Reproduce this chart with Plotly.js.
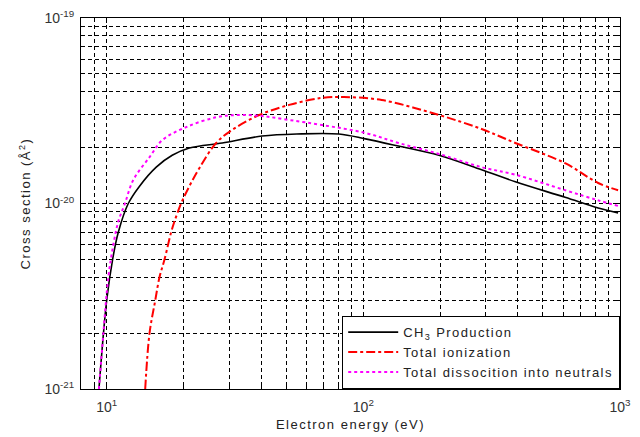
<!DOCTYPE html>
<html>
<head>
<meta charset="utf-8">
<script src="https://cdn.plot.ly/plotly-3.0.1.min.js"></script>
<style>
html,body{margin:0;padding:0;background:#fff;}
#chart{width:640px;height:437px;}
.legendtext{letter-spacing:1.4px;}
.xtitle,.ytitle{letter-spacing:1.5px;}
</style>
</head>
<body>
<div id="chart"></div>
<script>
// CH3 production
const ch3E = [9.33, 10.0, 10.55, 11.10, 12.14, 13.43, 15.6, 18.0, 21.0, 28.2, 40.3, 55, 80.3, 102, 137, 197, 289, 391, 611, 822, 983];
const ch3S = [1.0e-21, 3.0e-21, 5.0e-21, 7.0e-21, 1.0e-20, 1.24e-20, 1.57e-20, 1.82e-20, 1.99e-20, 2.12e-20, 2.31e-20, 2.37e-20, 2.37e-20, 2.23e-20, 2.04e-20, 1.82e-20, 1.52e-20, 1.31e-20, 1.08e-20, 9.46e-21, 8.9e-21];
// Total ionization
const ionE = [14.13, 14.69, 15.46, 16.06, 16.81, 17.83, 18.37, 19.50, 21.0, 22.96, 26.7, 30.8, 39.3, 51.4, 69.0, 84, 118, 197, 289, 391, 611, 822, 983];
const ionS = [1.0e-21, 2.0e-21, 3.0e-21, 4.0e-21, 5.0e-21, 7.0e-21, 8.0e-21, 1.0e-20, 1.24e-20, 1.55e-20, 2.12e-20, 2.49e-20, 3.0e-20, 3.40e-20, 3.71e-20, 3.75e-20, 3.61e-20, 3.0e-20, 2.52e-20, 2.12e-20, 1.65e-20, 1.29e-20, 1.18e-20];
// Total dissociation into neutrals
const neuE = [9.33, 9.71, 10.15, 10.62, 11.10, 11.78, 12.70, 14.7, 16.5, 20.4, 26.8, 32.9, 40.3, 51.4, 69.0, 102, 137, 197, 289, 391, 611, 822, 983];
const neuS = [1.0e-21, 2.0e-21, 4.0e-21, 6.0e-21, 8.0e-21, 1.0e-20, 1.34e-20, 1.78e-20, 2.20e-20, 2.58e-20, 2.92e-20, 3.0e-20, 2.96e-20, 2.82e-20, 2.65e-20, 2.40e-20, 2.12e-20, 1.85e-20, 1.57e-20, 1.43e-20, 1.18e-20, 1.04e-20, 9.7e-21];

const seriesNames = ['CH<sub>3</sub> Production', 'Total ionization', 'Total dissocition into neutrals'];
const xTickVals = [10, 100, 1000];
const xTickText = ['10<sup>1</sup>', '10<sup>2</sup>', '10<sup>3</sup>'];
const xMinorVals = [8, 9, 20, 30, 40, 50, 60, 70, 80, 90, 200, 300, 400, 500, 600, 700, 800, 900];
const yTickVals = [1e-21, 1e-20, 1e-19];
const yTickText = ['10<sup>-21</sup>', '10<sup>-20</sup>', '10<sup>-19</sup>'];
const yMinorVals = [2e-21, 3e-21, 4e-21, 5e-21, 6e-21, 7e-21, 8e-21, 9e-21, 2e-20, 3e-20, 4e-20, 5e-20, 6e-20, 7e-20, 8e-20, 9e-20];

const traces = [
  {x: ch3E, y: ch3S, name: seriesNames[0], mode: 'lines', line: {color: '#000', width: 1.6, shape: 'spline', smoothing: 1}},
  {x: ionE, y: ionS, name: seriesNames[1], mode: 'lines', line: {color: '#ff0000', width: 2, dash: 'dashdot', shape: 'spline', smoothing: 1}},
  {x: neuE, y: neuS, name: seriesNames[2], mode: 'lines', line: {color: '#ff00ff', width: 2, dash: 'dot', shape: 'spline', smoothing: 1}}
];

const gridDash = '4px,3px';
const axisCommon = {
  showline: true, linecolor: '#000', linewidth: 1, mirror: 'allticks',
  ticks: 'inside', ticklen: 5, tickcolor: '#000',
  showgrid: true, gridcolor: '#000', gridwidth: 1, griddash: gridDash,
  zeroline: false,
  tickfont: {family: 'Liberation Sans, Arial, sans-serif', size: 14, color: '#333'}
};

const layout = {
  width: 640, height: 437,
  margin: {l: 81, r: 20, t: 18, b: 48},
  paper_bgcolor: '#fff', plot_bgcolor: '#fff',
  font: {family: 'Liberation Sans, Arial, sans-serif', size: 13, color: '#222'},
  xaxis: Object.assign({}, axisCommon, {
    type: 'log', range: [0.9, 3],
    tickmode: 'array', tickvals: xTickVals, ticktext: xTickText,
    ticklabelstandoff: 5,
    minor: {tickmode: 'array', tickvals: xMinorVals, ticks: 'inside', ticklen: 3, tickcolor: '#000',
            showgrid: true, gridcolor: '#000', gridwidth: 1, griddash: gridDash},
    title: {text: 'Electron energy (eV)', standoff: 6, font: {size: 13, color: '#222'}}
  }),
  yaxis: Object.assign({}, axisCommon, {
    type: 'log', range: [-21, -19],
    tickmode: 'array', tickvals: yTickVals, ticktext: yTickText,
    ticklabelstandoff: 3,
    minor: {tickmode: 'array', tickvals: yMinorVals, ticks: 'inside', ticklen: 3, tickcolor: '#000',
            showgrid: true, gridcolor: '#000', gridwidth: 1, griddash: gridDash},
    title: {text: 'Cross section (Å<sup>2</sup>)', standoff: 10, font: {size: 13, color: '#222'}}
  }),
  legend: {
    x: 1, y: 0, xanchor: 'right', yanchor: 'bottom',
    bgcolor: '#fff', bordercolor: '#000', borderwidth: 1.2,
    font: {size: 13, color: '#222'}, itemwidth: 50, tracegroupgap: 0
  },
  showlegend: true
};

Plotly.newPlot('chart', traces, layout, {displayModeBar: false, staticPlot: true});
</script>
</body>
</html>
